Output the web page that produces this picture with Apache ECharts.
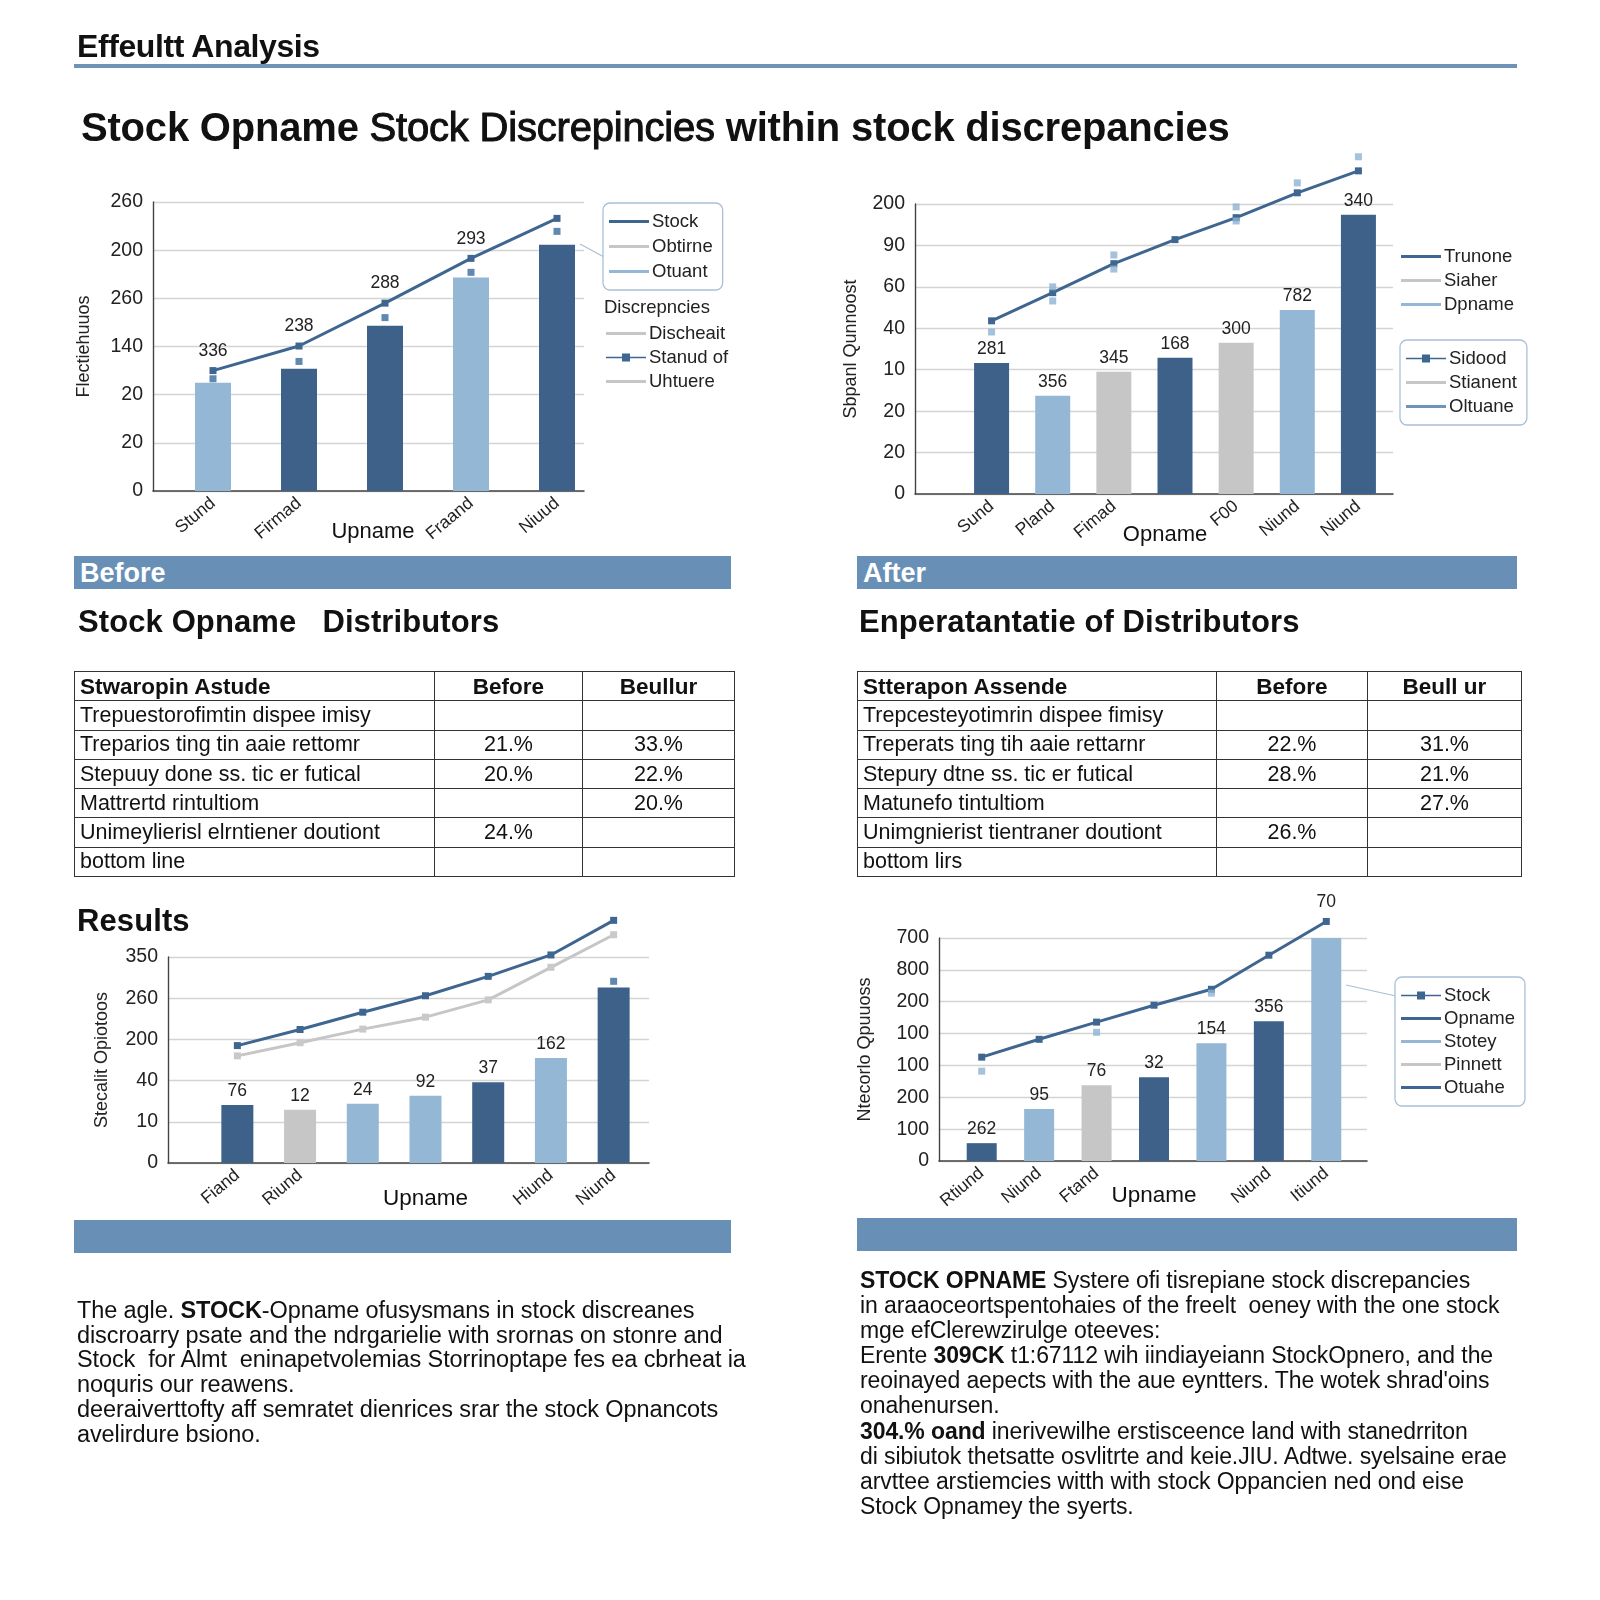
<!DOCTYPE html>
<html><head><meta charset="utf-8">
<script src="https://cdn.jsdelivr.net/npm/echarts@6/dist/echarts.min.js"></script>
<style>
html,body{margin:0;padding:0;background:#fff;}
body{width:1600px;height:1600px;position:relative;font-family:"Liberation Sans",Arial,sans-serif;color:#111;overflow:hidden;}
#chart{position:absolute;left:0;top:0;width:1600px;height:1600px;z-index:1;}
.abs{position:absolute;z-index:2;white-space:nowrap;}
.h1{left:77px;top:28px;font-size:32px;font-weight:bold;letter-spacing:-0.4px;}
.rule{left:74px;top:64px;width:1443px;height:4px;background:#6f93b6;}
.title{left:81px;top:105px;font-size:40px;font-weight:bold;letter-spacing:-0.2px;}
.title .mid{font-weight:normal;-webkit-text-stroke:1px #111;}
.band{height:33px;background:#6890b6;color:#fff;font-size:27px;font-weight:bold;line-height:34px;padding-left:6px;box-sizing:border-box;}
.sub{font-size:31px;font-weight:bold;letter-spacing:0.1px;}
table{border-collapse:collapse;table-layout:fixed;font-size:21.5px;}
td{border:1.5px solid #333;height:28.3px;padding:0 0 0 5px;white-space:nowrap;overflow:hidden;line-height:27px;}
td.n{text-align:center;padding:0;}
tr.hd td{font-weight:bold;font-size:22.5px;}
.para{font-size:23.5px;line-height:24.7px;letter-spacing:-0.1px;}
</style></head>
<body>
<div id="chart"></div>

<div class="abs h1">Effeultt Analysis</div>
<div class="abs rule"></div>
<div class="abs title">Stock Opname <span class="mid">Stock Discrepincies</span> within stock discrepancies</div>

<div class="abs band" style="left:74px;top:556px;width:657px;">Before</div>
<div class="abs band" style="left:857px;top:556px;width:660px;">After</div>

<div class="abs sub" style="left:78px;top:604px;">Stock Opname &nbsp; Distributors</div>
<div class="abs sub" style="left:859px;top:604px;">Enperatantatie of Distributors</div>

<table class="abs" style="left:74px;top:671px;width:660px;">
<colgroup><col style="width:360px"><col style="width:148px"><col style="width:152px"></colgroup>
<tr class="hd"><td>Stwaropin Astude</td><td class="n">Before</td><td class="n">Beullur</td></tr>
<tr><td>Trepuestorofimtin dispee imisy</td><td class="n"></td><td class="n"></td></tr>
<tr><td>Treparios ting tin aaie rettomr</td><td class="n">21.%</td><td class="n">33.%</td></tr>
<tr><td>Stepuuy done ss. tic er futical</td><td class="n">20.%</td><td class="n">22.%</td></tr>
<tr><td>Mattrertd rintultiom</td><td class="n"></td><td class="n">20.%</td></tr>
<tr><td>Unimeylierisl elrntiener doutiont</td><td class="n">24.%</td><td class="n"></td></tr>
<tr><td>bottom line</td><td class="n"></td><td class="n"></td></tr>
</table>

<table class="abs" style="left:857px;top:671px;width:664px;">
<colgroup><col style="width:359px"><col style="width:151px"><col style="width:154px"></colgroup>
<tr class="hd"><td>Stterapon Assende</td><td class="n">Before</td><td class="n">Beull ur</td></tr>
<tr><td>Trepcesteyotimrin dispee fimisy</td><td class="n"></td><td class="n"></td></tr>
<tr><td>Treperats ting tih aaie rettarnr</td><td class="n">22.%</td><td class="n">31.%</td></tr>
<tr><td>Stepury dtne ss. tic er futical</td><td class="n">28.%</td><td class="n">21.%</td></tr>
<tr><td>Matunefo tintultiom</td><td class="n"></td><td class="n">27.%</td></tr>
<tr><td>Unimgnierist tientraner doutiont</td><td class="n">26.%</td><td class="n"></td></tr>
<tr><td>bottom lirs</td><td class="n"></td><td class="n"></td></tr>
</table>

<div class="abs sub" style="left:77px;top:903px;">Results</div>

<div class="abs band" style="left:74px;top:1220px;width:657px;"></div>
<div class="abs band" style="left:857px;top:1218px;width:660px;"></div>

<div class="abs para" style="left:77px;top:1298px;">The agle. <b>STOCK</b>-Opname ofusysmans in stock discreanes<br>discroarry psate and the ndrgarielie with srornas on stonre and<br>Stock&nbsp; for Almt&nbsp; eninapetvolemias Storrinoptape fes ea cbrheat ia<br>noquris our reawens.<br>deeraiverttofty aff semratet dienrices srar the stock Opnancots<br>avelirdure bsiono.</div>

<div class="abs para" style="left:860px;top:1268px;line-height:25.1px;font-size:23px;"><b>STOCK OPNAME</b> Systere ofi tisrepiane stock discrepancies<br>in araaoceortspentohaies of the freelt&nbsp; oeney with the one stock<br>mge efClerewzirulge oteeves:<br>Erente <b>309CK</b> t1:67112 wih iindiayeiann StockOpnero, and the<br>reoinayed aepects with the aue eyntters. The wotek shrad'oins<br>onahenursen.<br><b>304.% oand</b> inerivewilhe erstisceence land with stanedrriton<br>di sibiutok thetsatte osvlitrte and keie.JIU. Adtwe. syelsaine erae<br>arvttee arstiemcies witth with stock Oppancien ned ond eise<br>Stock Opnamey the syerts.</div>

<script>
// ---------- DATA ----------
// Chart 1 (Before, top-left)
const c1Categories = ['Stund', 'Firmad', '', 'Fraand', 'Niuud'];
const c1BarValues = [2.25, 2.54, 3.43, 4.43, 5.11];
const c1LineValues = [2.50, 3.01, 3.90, 4.83, 5.66];
const c1LineLabels = ['336', '238', '288', '293', ''];
const c1MarkValues = [2.33, 2.69, 3.60, 4.54, 5.39];
const c1TickLabels = ['0', '20', '20', '140', '260', '200', '260'];
const c1LegendA = ['Stock', 'Obtirne', 'Otuant'];
const c1LegendB = ['Discheait', 'Stanud of', 'Uhtuere'];

// Chart 2 (After, top-right)
const c2Categories = ['Sund', 'Pland', 'Fimad', '', 'F00', 'Niund', 'Niund'];
const c2BarValues = [3.16, 2.37, 2.95, 3.29, 3.65, 4.44, 6.74];
const c2BarLabels = ['281', '356', '345', '168', '300', '782', '340'];
const c2LineValues = [4.18, 4.86, 5.56, 6.14, 6.67, 7.27, 7.80];
const c2MarksUpper = [null, 5.00, 5.77, null, 6.93, 7.51, 8.14];
const c2MarksLower = [3.91, 4.66, 5.43, null, 6.59, null, null];
const c2TickLabels = ['0', '20', '20', '10', '40', '60', '90', '200'];
const c2LegendA = ['Trunone', 'Siaher', 'Dpname'];
const c2LegendB = ['Sidood', 'Stianent', 'Oltuane'];

// Chart 3 (Results, bottom-left)
const c3Categories = ['Fiand', 'Riund', '', '', '', 'Hiund', 'Niund'];
const c3BarValues = [1.41, 1.29, 1.44, 1.63, 1.96, 2.55, 4.26];
const c3BarLabels = ['76', '12', '24', '92', '37', '162', ''];
const c3LineDark = [2.85, 3.24, 3.66, 4.06, 4.53, 5.05, 5.89];
const c3LineGray = [2.60, 2.92, 3.25, 3.54, 3.96, 4.75, 5.54];
const c3Marks = [null, null, null, null, null, null, 4.41];
const c3TickLabels = ['0', '10', '40', '200', '260', '350'];

// Chart 4 (bottom-right)
const c4Categories = ['Rtiund', 'Niund', 'Ftand', '', '', 'Niund', 'Itiund'];
const c4BarValues = [0.56, 1.63, 2.38, 2.63, 3.70, 4.39, 7.00];
const c4BarLabels = ['262', '95', '76', '32', '154', '356', ''];
const c4LineValues = [3.26, 3.82, 4.36, 4.89, 5.39, 6.46, 7.52];
const c4LineLabels = ['', '', '', '', '', '', '70'];
const c4Marks = [2.82, null, 4.04, null, 5.27, null, null];
const c4TickLabels = ['0', '100', '200', '100', '100', '200', '800', '700'];
const c4Legend = ['Stock', 'Opname', 'Stotey', 'Pinnett', 'Otuahe'];

// ---------- STYLE / LAYOUT ----------
const FONT = '"Liberation Sans", Arial, sans-serif';
const DARK = '#3e618a', LIGHT = '#93b7d5', GRAY = '#c6c6c6', LINE = '#3f6690', MARKL = '#8db3d3', MID = '#6f95bb';
const c1Colors = [LIGHT, DARK, DARK, LIGHT, DARK];
const c2Colors = [DARK, LIGHT, GRAY, DARK, GRAY, LIGHT, DARK];
const c3Colors = [DARK, GRAY, LIGHT, LIGHT, DARK, LIGHT, DARK];
const c4Colors = [DARK, LIGHT, GRAY, DARK, LIGHT, DARK, LIGHT];
const ICON_LINE = 'path://M0,0h.01v.01h-.01zM0,4.5h40v3H0zM39.99,11.99h.01v.01h-.01z';
const ICON_MARK = 'path://M0,0h.01v.01h-.01zM0,5.2h40v1.6H0zM16,2h8v8h-8zM39.99,11.99h.01v.01h-.01z';

// frame grids (axes + gridlines) and data grids (where the category bands sit)
const frames = [
  { left: 153, top: 202, width: 431, height: 289 },
  { left: 915, top: 204, width: 478, height: 290 },
  { left: 168, top: 957, width: 481, height: 206 },
  { left: 939, top: 938, width: 428, height: 223 }
];
const dataBands = [
  { left: 170, width: 430 },
  { left: 961, width: 428 },
  { left: 206, width: 439 },
  { left: 953, width: 402 }
];
const grids = frames.concat(frames.map((f, i) => ({ left: dataBands[i].left, width: dataBands[i].width, top: f.top, height: f.height })));

const bars = (vals, colors) => vals.map((v, i) => ({ value: v, itemStyle: { color: colors[i] } }));

function frameX(gi) {
  return { type: 'category', gridIndex: gi, data: [''], boundaryGap: true,
    axisLine: { lineStyle: { color: '#444', width: 1.6 } }, axisTick: { show: false }, axisLabel: { show: false } };
}
function dataX(gi, cats, name, gap, nameSize, shiftLeft) {
  return {
    type: 'category', gridIndex: gi, data: cats,
    axisLine: { show: false }, axisTick: { show: false },
    axisLabel: { rotate: 40, interval: 0, fontSize: 17.5, color: '#222', margin: 10, fontFamily: FONT },
    name: name, nameLocation: 'middle', nameGap: gap, nameMoveOverlap: false,
    nameTextStyle: { fontSize: nameSize, color: '#111', fontFamily: FONT, padding: [0, shiftLeft * 2, 0, 0] }
  };
}
function frameY(gi, ticks, name, gap) {
  return {
    type: 'value', gridIndex: gi, min: 0, max: ticks.length - 1, interval: 1,
    axisLine: { show: true, lineStyle: { color: '#444', width: 1.4 } },
    axisTick: { show: false },
    axisLabel: { formatter: v => ticks[Math.round(v)], fontSize: 19.5, color: '#222', margin: 10, fontFamily: FONT },
    splitLine: { lineStyle: { color: '#d4d4d4', width: 1.3 } },
    name: name, nameLocation: 'middle', nameRotate: 90, nameGap: gap, nameMoveOverlap: false,
    nameTextStyle: { fontSize: 18, color: '#222', fontFamily: FONT }
  };
}
function dataY(gi, ticks) {
  return { type: 'value', gridIndex: gi, min: 0, max: ticks.length - 1, interval: 1, show: false, splitLine: { show: false } };
}
function barSeries(ai, data, width, labels) {
  return {
    type: 'bar', xAxisIndex: ai, yAxisIndex: ai, data: data, barWidth: width, z: 2,
    label: labels ? { show: true, position: 'top', distance: 5, fontSize: 17.5, color: '#222', fontFamily: FONT,
      formatter: p => labels[p.dataIndex] || '' } : { show: false }
  };
}
function lineSeries(ai, data, color, labels, symColor) {
  return {
    type: 'line', xAxisIndex: ai, yAxisIndex: ai, data: data, clip: false, z: 4,
    lineStyle: { color: color, width: 3 }, itemStyle: { color: symColor || color },
    symbol: 'rect', symbolSize: 7, showSymbol: true,
    label: labels ? { show: true, position: 'top', distance: 7, fontSize: 17.5, color: '#222', fontFamily: FONT,
      formatter: p => labels[p.dataIndex] || '' } : { show: false }
  };
}
function markSeries(ai, data, color) {
  return { type: 'scatter', xAxisIndex: ai, yAxisIndex: ai, data: data, symbol: 'rect', symbolSize: 7,
    itemStyle: { color: color }, clip: false, z: 5 };
}
const legendSeries = [];
function legendItems(key, names, colors, icons) {
  return names.map((n, i) => {
    const nm = key + '|' + n;
    legendSeries.push({ type: 'line', name: nm, data: [], xAxisIndex: 4, yAxisIndex: 4, color: colors[i] });
    return { name: nm, icon: icons[i], itemStyle: { color: colors[i] } };
  });
}
function legend(items, left, top, boxed, gap) {
  return {
    data: items, orient: 'vertical', left: left, top: top, selectedMode: false,
    itemWidth: 40, itemHeight: 12, itemGap: gap, formatter: n => n.split('|')[1],
    textStyle: { fontSize: 18.5, color: '#222', fontFamily: FONT, padding: [0, 0, 0, -2] },
    borderColor: boxed ? '#a9c0d7' : 'transparent', borderWidth: boxed ? 1.3 : 0, borderRadius: 7,
    padding: boxed ? [9, 10, 9, 6] : [0, 0, 0, 0], backgroundColor: boxed ? '#fff' : 'transparent'
  };
}

const lg1a = legendItems('c1a', c1LegendA, [LINE, GRAY, LIGHT], [ICON_LINE, ICON_LINE, ICON_LINE]);
const lg1b = legendItems('c1b', c1LegendB, [GRAY, LINE, GRAY], [ICON_LINE, ICON_MARK, ICON_LINE]);
const lg2a = legendItems('c2a', c2LegendA, [LINE, GRAY, LIGHT], [ICON_LINE, ICON_LINE, ICON_LINE]);
const lg2b = legendItems('c2b', c2LegendB, [LINE, GRAY, MID], [ICON_MARK, ICON_LINE, ICON_LINE]);
const lg4 = legendItems('c4', c4Legend, [LINE, LINE, LIGHT, GRAY, LINE], [ICON_MARK, ICON_LINE, ICON_LINE, ICON_LINE, ICON_LINE]);

const option = {
  animation: false,
  textStyle: { fontFamily: FONT },
  grid: grids,
  xAxis: [
    frameX(0), frameX(1), frameX(2), frameX(3),
    dataX(4, c1Categories, 'Upname', 30, 22, 12),
    dataX(5, c2Categories, 'Opname', 30, 22, 10),
    dataX(6, c3Categories, 'Upname', 24, 22.5, 0),
    dataX(7, c4Categories, 'Upname', 23, 22.5, 0)
  ],
  yAxis: [
    frameY(0, c1TickLabels, 'Flectiehuuos', 60),
    frameY(1, c2TickLabels, 'Sbpanl Qunnoost', 55),
    frameY(2, c3TickLabels, 'Stecalit Opiotoos', 57),
    frameY(3, c4TickLabels, 'Ntecorlo Qpuuoss', 65),
    dataY(4, c1TickLabels), dataY(5, c2TickLabels), dataY(6, c3TickLabels), dataY(7, c4TickLabels)
  ],
  legend: [
    legend(lg1a, 603, 203, true, 6),
    legend(lg1b, 606, 324, false, 5),
    legend(lg2a, 1401, 247, false, 5),
    legend(lg2b, 1400, 340, true, 5),
    legend(lg4, 1395, 977, true, 4)
  ],
  graphic: [
    { type: 'text', left: 604, top: 298, style: { text: 'Discrepncies', fontSize: 18.5, fill: '#222', fontFamily: FONT } },
    { type: 'line', shape: { x1: 580, y1: 244, x2: 604, y2: 257 }, style: { stroke: '#a9c0d7', lineWidth: 1.2 } },
    { type: 'line', shape: { x1: 1346, y1: 985, x2: 1396, y2: 996 }, style: { stroke: '#a9c0d7', lineWidth: 1.2 } }
  ],
  series: [
    barSeries(4, bars(c1BarValues, c1Colors), 36, null),
    markSeries(4, c1MarkValues, '#3a6a9a'),
    lineSeries(4, c1LineValues, LINE, c1LineLabels),

    barSeries(5, bars(c2BarValues, c2Colors), 35, c2BarLabels),
    lineSeries(5, c2LineValues, LINE, null),
    markSeries(5, c2MarksUpper, MARKL),
    markSeries(5, c2MarksLower, MARKL),

    barSeries(6, bars(c3BarValues, c3Colors), 32, c3BarLabels),
    lineSeries(6, c3LineGray, GRAY, null, '#c9c9c9'),
    lineSeries(6, c3LineDark, LINE, null),
    markSeries(6, c3Marks, '#3a6a9a'),

    barSeries(7, bars(c4BarValues, c4Colors), 30, c4BarLabels),
    lineSeries(7, c4LineValues, LINE, c4LineLabels),
    markSeries(7, c4Marks, MARKL)
  ].concat(legendSeries)
};
const chart = echarts.init(document.getElementById('chart'), null, { renderer: 'canvas' });
chart.setOption(option);
</script>
</body></html>
